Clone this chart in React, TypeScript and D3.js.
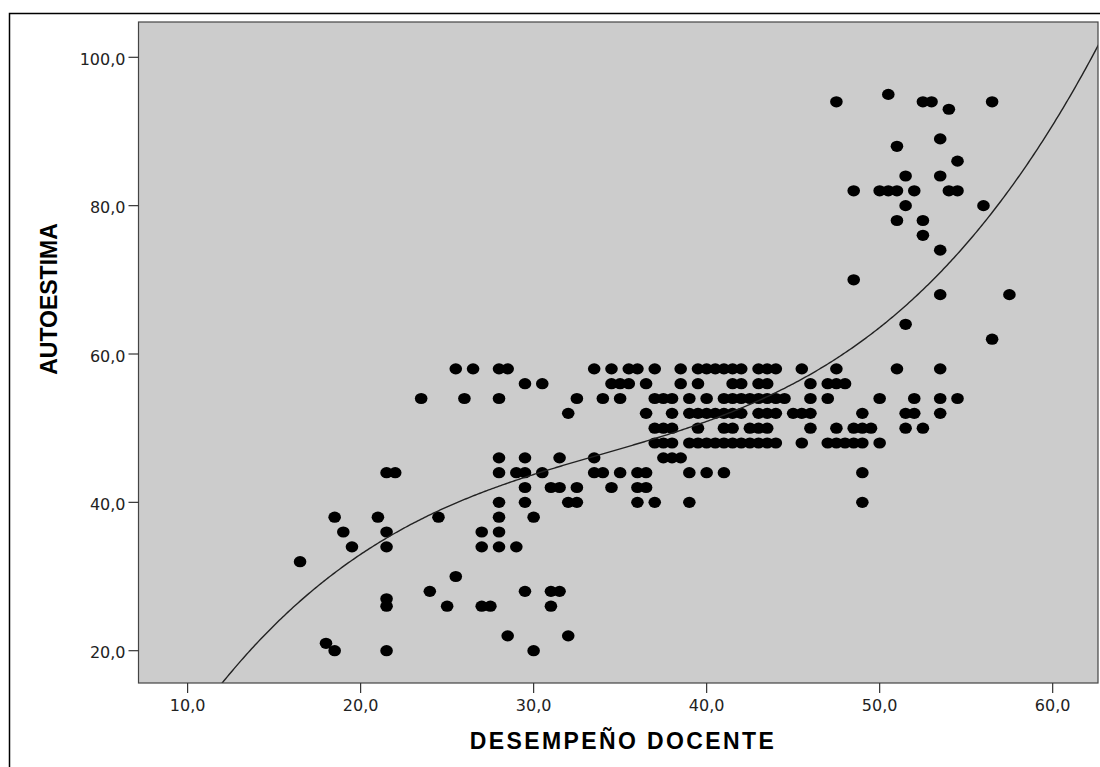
import React from "react";
import * as d3 from "d3";

// AUTOESTIMA levels and the DESEMPEÑO DOCENTE scores seen at each level
const autoestimaNiveles = [
  20, 21, 22, 26, 27, 28, 30, 32, 34, 36, 38, 40, 42, 44, 46, 48, 50, 52, 54, 56, 58,
  62, 64, 68, 70, 74, 76, 78, 80, 82, 84, 86, 88, 89, 93, 94, 95,
];
const desempenoPorNivel = [
  [18.5, 21.5, 30.0],
  [18.0],
  [28.5, 32.0],
  [21.5, 25.0, 27.0, 27.5, 31.0],
  [21.5],
  [24.0, 29.5, 31.0, 31.5],
  [25.5],
  [16.5],
  [19.5, 21.5, 27.0, 28.0, 29.0],
  [19.0, 21.5, 27.0, 28.0],
  [18.5, 21.0, 24.5, 28.0, 30.0],
  [28.0, 29.5, 32.0, 32.5, 36.0, 37.0, 39.0, 49.0],
  [29.5, 31.0, 31.5, 32.5, 34.5, 36.0, 36.5],
  [21.5, 22.0, 28.0, 29.0, 29.5, 30.5, 33.5, 34.0, 35.0, 36.0, 36.5, 39.0, 40.0, 41.0, 49.0],
  [28.0, 29.5, 31.5, 33.5, 37.5, 38.0, 38.5],
  [37.0, 37.5, 38.0, 39.0, 39.5, 40.0, 40.5, 41.0, 41.5, 42.0, 42.5, 43.0, 43.5, 44.0, 45.5, 47.0, 47.5, 48.0, 48.5, 49.0, 50.0],
  [37.0, 37.5, 38.0, 39.5, 41.0, 41.5, 42.5, 43.0, 43.5, 46.0, 47.5, 48.5, 49.0, 49.5, 51.5, 52.5],
  [32.0, 36.5, 38.0, 39.0, 39.5, 40.0, 40.5, 41.0, 41.5, 42.0, 43.0, 43.5, 44.0, 45.0, 45.5, 46.0, 49.0, 51.5, 52.0, 53.5],
  [23.5, 26.0, 28.0, 32.5, 34.0, 35.0, 37.0, 37.5, 38.0, 39.0, 40.0, 41.0, 41.5, 42.0, 42.5, 43.0, 43.5, 44.0, 44.5, 46.0, 47.0, 50.0, 52.0, 53.5, 54.5],
  [29.5, 30.5, 34.5, 35.0, 35.5, 36.5, 38.5, 39.5, 41.5, 42.0, 43.0, 43.5, 46.0, 47.0, 47.5, 48.0],
  [25.5, 26.5, 28.0, 28.5, 33.5, 34.5, 35.5, 36.0, 37.0, 38.5, 39.5, 40.0, 40.5, 41.0, 41.5, 42.0, 43.0, 43.5, 44.0, 45.5, 47.5, 51.0, 53.5],
  [56.5],
  [51.5],
  [53.5, 57.5],
  [48.5],
  [53.5],
  [52.5],
  [51.0, 52.5],
  [51.5, 56.0],
  [48.5, 50.0, 50.5, 51.0, 52.0, 54.0, 54.5],
  [51.5, 53.5],
  [54.5],
  [51.0],
  [53.5],
  [54.0],
  [47.5, 52.5, 53.0, 56.5],
  [50.5],
];

const xTicks = [10, 20, 30, 40, 50, 60];
const yTicks = [20, 40, 60, 80, 100];

// cubic fit, centred at x = 37
const ajusteCentro = 37;
const ajusteCoef = [48.6, 0.7149, 0.013862, 0.0015192];

const fmt = (v: number) => d3.format(".1f")(v).replace(".", ",");

export default function App() {
  const W = 1100;
  const H = 767;
  const left = 138.5;
  const right = 1098;
  const top = 22;
  const bottom = 683;

  const x = d3.scaleLinear().domain([7.162, 62.62]).range([left, right]);
  const y = d3.scaleLinear().domain([15.645, 104.76]).range([bottom, top]);

  const puntos = autoestimaNiveles.flatMap((a, i) =>
    desempenoPorNivel[i].map((d) => ({ d, a }))
  );

  const fit = (v: number) => {
    const t = v - ajusteCentro;
    return ajusteCoef[0] + ajusteCoef[1] * t + ajusteCoef[2] * t * t + ajusteCoef[3] * t * t * t;
  };
  const curveXs = d3.range(7.0, 63.0, 0.1);
  const line = d3
    .line<number>()
    .x((v) => x(v))
    .y((v) => y(fit(v)));

  return (
    <svg
      width={W}
      height={H}
      style={{ position: "absolute", left: 0, top: 0, background: "#fff" }}
    >
      <defs>
        <clipPath id="plot">
          <rect x={left} y={top} width={right - left} height={bottom - top} />
        </clipPath>
      </defs>
      <rect x={9.5} y={13.5} width={1200} height={1000} fill="none" stroke="#000" strokeWidth={1.5} />
      <rect x={left} y={top} width={right - left} height={bottom - top} fill="#cccccc" />

      <g clipPath="url(#plot)">
        {puntos.map((p, i) => (
          <ellipse key={i} cx={x(p.d)} cy={y(p.a)} rx={6.3} ry={5.6} fill="#000" />
        ))}
        <path d={line(curveXs) || ""} fill="none" stroke="#222" strokeWidth={1.4} />
      </g>

      <rect x={left} y={top} width={right - left} height={bottom - top} fill="none" stroke="#444" strokeWidth={1.2} />

      {xTicks.map((t) => (
        <g key={t} transform={`translate(${x(t)},${bottom})`}>
          <line y1={0} y2={10} stroke="#333" strokeWidth={1.2} />
          <text
            y={28}
            textAnchor="middle"
            fontFamily="DejaVu Sans"
            fontSize={16}
            fill="#222"
          >
            {fmt(t)}
          </text>
        </g>
      ))}
      {yTicks.map((t) => (
        <g key={t} transform={`translate(${left},${y(t)})`}>
          <line x1={-10} x2={0} stroke="#333" strokeWidth={1.2} />
          <text
            x={-13}
            y={7.5}
            textAnchor="end"
            fontFamily="DejaVu Sans"
            fontSize={16}
            fill="#222"
          >
            {fmt(t)}
          </text>
        </g>
      ))}

      <text
        x={623}
        y={748.5}
        textAnchor="middle"
        fontFamily="Liberation Sans, Arial"
        fontWeight="bold"
        fontSize={23}
        letterSpacing={2.4}
        fill="#000"
      >
        DESEMPEÑO DOCENTE
      </text>
      <text
        transform={`translate(56.5,299) rotate(-90)`}
        textAnchor="middle"
        fontFamily="Liberation Sans, Arial"
        fontWeight="bold"
        fontSize={23}
        fill="#000"
      >
        AUTOESTIMA
      </text>
    </svg>
  );
}
